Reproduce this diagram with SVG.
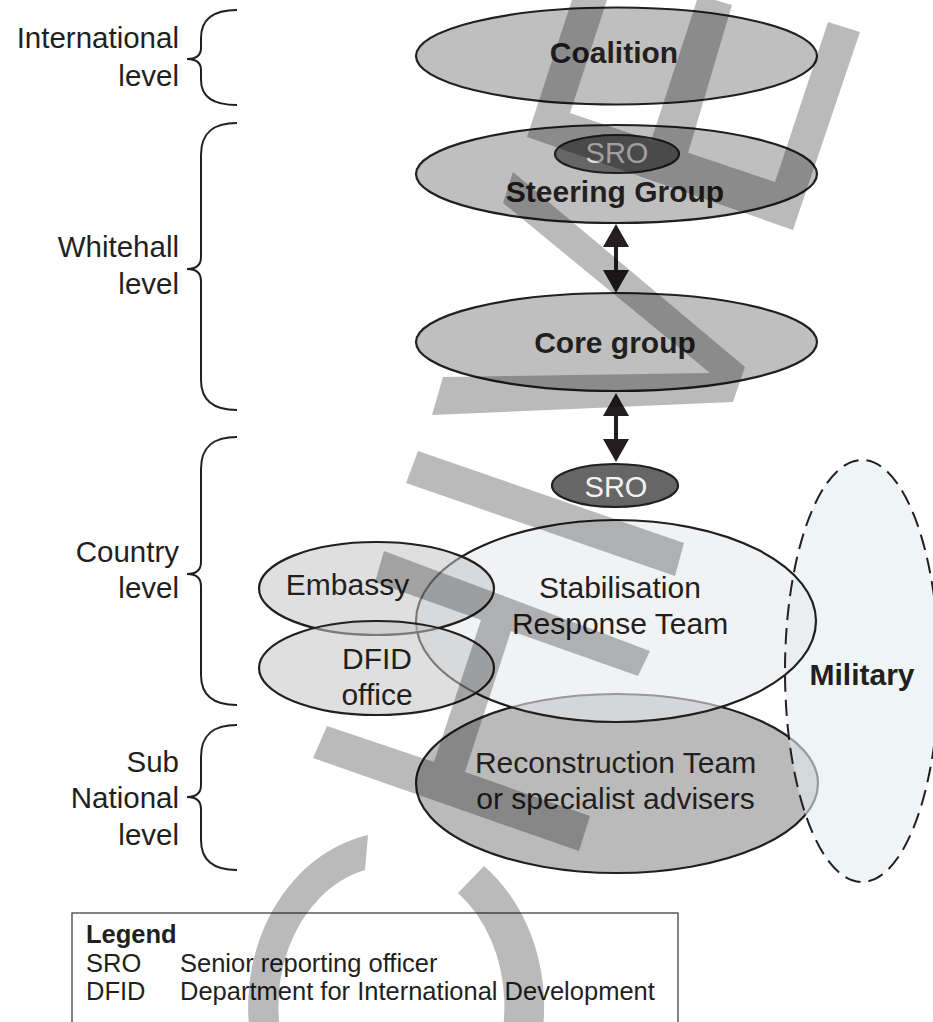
<svg xmlns="http://www.w3.org/2000/svg" width="933" height="1022" viewBox="0 0 933 1022">
<style>
text{font-family:"Liberation Sans",Arial,sans-serif;fill:#231f20}
.lbl{font-size:29.5px;text-anchor:end}
.b{font-weight:bold;font-size:30px;text-anchor:middle}
.n{font-size:30px;text-anchor:middle}
.sro{font-size:29px;text-anchor:middle}
.brace{fill:none;stroke:#231f20;stroke-width:2}
.ell{stroke:#231f20;stroke-width:2.2}
.grey{fill:#bfbfbf}
.lg{font-size:25.5px}
</style>
<defs>
<marker id="ah" viewBox="0 0 23 26" refX="15" refY="13" markerWidth="23" markerHeight="26" markerUnits="userSpaceOnUse" orient="auto-start-reverse">
<path d="M0,0 L23,13 L0,26 Z" fill="#231f20"/>
</marker>
</defs>
<rect width="933" height="1022" fill="#fff"/>

<g id="levels">
<g id="level-international">
<path class="brace" d="M237,10 C215,10 201,18 201,38 L201,48 C201,55 196,59 187,59 C196,59 201,63 201,70 L201,80 C201,98 215,105 237,105"/>
<text class="lbl" x="179" y="48">International</text>
<text class="lbl" x="179" y="86">level</text>
</g>
<g id="level-whitehall">
<path class="brace" d="M237,123 C215,123 201,131 201,155 L201,257 C201,265 196,269 187,269 C196,269 201,273 201,281 L201,380 C201,402 215,410 237,410"/>
<text class="lbl" x="179" y="257">Whitehall</text>
<text class="lbl" x="179" y="294">level</text>
</g>
<g id="level-country">
<path class="brace" d="M237,437 C215,437 201,445 201,469 L201,562 C201,570 196,574 187,574 C196,574 201,578 201,586 L201,675 C201,697 215,705 237,705"/>
<text class="lbl" x="179" y="562">Country</text>
<text class="lbl" x="179" y="598">level</text>
</g>
<g id="level-subnational">
<path class="brace" d="M237,725 C215,725 201,733 201,757 L201,785 C201,793 196,797 187,797 C196,797 201,801 201,809 L201,840 C201,862 215,870 237,870"/>
<text class="lbl" x="179" y="772">Sub</text>
<text class="lbl" x="179" y="808">National</text>
<text class="lbl" x="179" y="845">level</text>
</g>
</g>

<g id="coalition">
<ellipse class="ell grey" cx="616.5" cy="56" rx="200.5" ry="48.5"/>
<text class="b" x="614" y="63">Coalition</text>
</g>
<g id="steering-group">
<ellipse class="ell grey" cx="616.5" cy="174" rx="200.5" ry="49"/>
<text class="b" x="615" y="202">Steering Group</text>
</g>
<g id="sro-whitehall">
<ellipse class="ell" cx="617" cy="154" rx="62" ry="19" fill="#666"/>
<text class="sro" x="617" y="163" style="fill:#dcdcdc">SRO</text>
</g>
<g id="core-group">
<ellipse class="ell grey" cx="616.5" cy="342" rx="200.5" ry="49"/>
<text class="b" x="615" y="353">Core group</text>
</g>
<g id="sro-country">
<ellipse class="ell" cx="615" cy="485.5" rx="63" ry="21.5" fill="#666"/>
<text class="sro" x="616" y="497" style="fill:#f2f2f2">SRO</text>
</g>

<g id="reconstruction-team">
<ellipse class="ell" cx="617" cy="783.5" rx="201" ry="89.5" fill="#bababa"/>
</g>
<g id="military-fill">
<ellipse cx="862" cy="671" rx="77" ry="211" fill="#e4ecf0" fill-opacity="0.6"/>
</g>
<g id="stabilisation-response-team">
<ellipse cx="616" cy="621" rx="200" ry="101" fill="#e6e9ec" fill-opacity="0.6"/>
<ellipse cx="616" cy="621" rx="200" ry="101" fill="none" class="ell"/>
<text class="n" x="620" y="598">Stabilisation</text>
<text class="n" x="620" y="634">Response Team</text>
</g>
<g id="embassy">
<ellipse class="ell" cx="376.5" cy="588.5" rx="117.5" ry="46.5" fill="#c4c4c4" fill-opacity="0.55"/>
<text class="n" x="347.5" y="595">Embassy</text>
</g>
<g id="dfid-office">
<ellipse class="ell" cx="376.5" cy="668" rx="117.5" ry="47" fill="#c4c4c4" fill-opacity="0.55"/>
<text class="n" x="377" y="669">DFID</text>
<text class="n" x="377" y="705">office</text>
</g>
<g id="reconstruction-label">
<text class="n" x="615.5" y="773">Reconstruction Team</text>
<text class="n" x="615.5" y="809">or specialist advisers</text>
</g>
<g id="military">
<ellipse cx="862" cy="671" rx="77" ry="211" fill="none" stroke="#231f20" stroke-width="2" stroke-dasharray="16 8"/>
<text class="b" x="862" y="685">Military</text>
</g>

<g id="connectors">
<path d="M616,232 L616,285" stroke="#231f20" stroke-width="4" fill="none" marker-start="url(#ah)" marker-end="url(#ah)"/>
<path d="M616,401 L616,454" stroke="#231f20" stroke-width="4" fill="none" marker-start="url(#ah)" marker-end="url(#ah)"/>
</g>

<g id="legend">
<rect x="72" y="913" width="606" height="200" fill="#fff" stroke="#333" stroke-width="1.2"/>
<text class="lg" x="86" y="943" style="font-weight:bold">Legend</text>
<text class="lg" x="86" y="972">SRO</text>
<text class="lg" x="180" y="972">Senior reporting officer</text>
<text class="lg" x="86" y="1000">DFID</text>
<text class="lg" x="180" y="1000">Department for International Development</text>
</g>

<g id="watermark" fill="#000" fill-opacity="0.27">
<path d="M572,0 L607,0 L570,113 L775,182 L828,22 L860,32 L793,230 L527,137 Z M697,0 L715,0 L732,5 L686,160 L648,150 Z M513,172 L745,367 L733,402 L432,415 L443,377 L710,373 L503,203 Z M418,451 L684,543 L675,576 L406,483 Z M384,551 L650,651 L638,676 L511,631 L465,772 L590,816 L579,851 L313,758 L327,726 L434,762 L481,620 L375,582 Z M368,835 A148,175 0 1 0 484,866 L458,893 A113,140 0 1 1 365,870 Z" fill-rule="nonzero"/>
</g>
</svg>
